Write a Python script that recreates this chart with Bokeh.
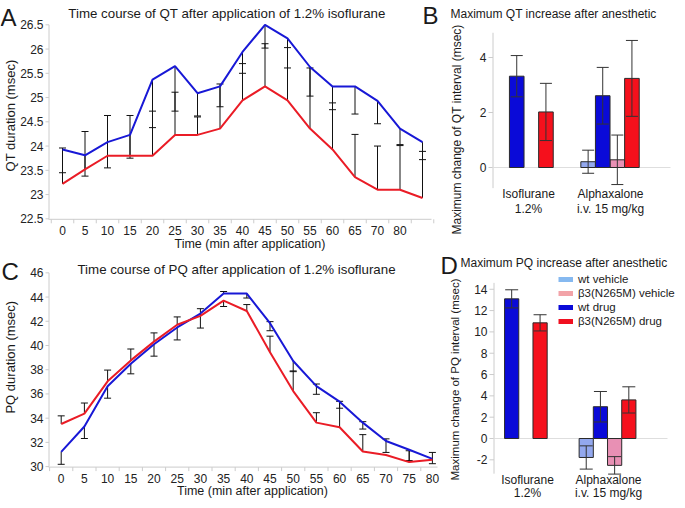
import math
from bokeh.plotting import figure
from bokeh.models import Label, Range1d, Legend, LegendItem
from bokeh.core.properties import value
from bokeh.layouts import column, row
from bokeh.embed import file_html
from bokeh.resources import INLINE

FONT = "Liberation Sans"

# ------------------------------------------------------------------ data
qt_time_labels = ["0", "5", "10", "15", "20", "25", "30", "35", "40", "45",
                  "50", "55", "60", "65", "70", "80", ""]
qt_wt = [23.93, 23.81, 24.08, 24.23, 25.37, 25.65, 25.09, 25.23, 25.94, 26.50,
         26.22, 25.63, 25.23, 25.23, 24.93, 24.36, 24.08]
qt_mut = [23.22, 23.52, 23.80, 23.80, 23.80, 24.23, 24.23, 24.36, 24.94, 25.23,
          24.94, 24.36, 23.93, 23.36, 23.10, 23.10, 22.93]
qt_wt_lo = [23.45, 23.38, 23.55, 23.75, 24.38, 24.72, 24.62, 24.81, 25.50, 26.02,
            25.61, 25.03, 24.75, 24.66, 24.46, 24.03, 23.72]
qt_mut_hi = [23.96, 24.30, 24.63, 24.63, 24.72, 25.11, 24.60, 25.28, 25.70, 26.11,
             26.03, 25.61, 24.89, 24.24, 24.00, 24.01, 23.89]

pq_time_labels = ["0", "5", "10", "15", "20", "25", "30", "35", "40", "45",
                  "50", "55", "60", "65", "70", "75", "80"]
pq_wt = [31.22, 33.31, 36.64, 38.50, 40.10, 41.49, 42.64, 44.29, 44.29, 41.84,
         38.72, 36.64, 35.36, 33.63, 32.11, 31.39, 30.64]
pq_mut = [33.52, 34.37, 37.04, 38.77, 40.32, 41.71, 42.45, 43.71, 42.85, 39.44,
          36.24, 33.63, 33.25, 31.25, 30.96, 30.37, 30.56]
pq_wt_lo = [30.19, 32.32, 35.65, 37.66, 39.12, 40.46, 41.44, 44.29, 43.92, 41.22,
            37.84, 35.97, 34.82, 33.10, 31.17, 30.50, 30.24]
pq_wt_hi = [31.22, 33.31, 36.64, 38.50, 40.10, 41.49, 42.64, 44.46, 44.29, 41.97,
            38.72, 36.82, 35.36, 33.71, 32.29, 31.39, 31.17]
pq_mut_lo = [33.52, 34.37, 37.04, 38.77, 40.32, 41.71, 42.45, 43.22, 42.85, 39.44,
             36.24, 33.63, 33.25, 31.25, 30.96, 30.37, 30.56]
pq_mut_hi = [34.19, 35.25, 37.97, 39.71, 41.04, 42.36, 43.04, 43.71, 43.38, 40.77,
             37.90, 34.45, 35.39, 32.64, 30.96, 31.31, 30.56]

bar_groups = [("Isoflurane", "1.2%"), ("Alphaxalone", "i.v. 15 mg/kg")]
bar_series = ["wt vehicle", "\u03b23(N265M) vehicle", "wt drug", "\u03b23(N265M) drug"]
# values per group [Isoflurane, Alphaxalone]; None = not measured
qt_wt_veh = [None, 0.21];    qt_wt_veh_err = [None, 0.42]
qt_wt_drug = [3.32, 2.61];   qt_wt_drug_err = [0.75, 1.03]
qt_mut_veh = [None, 0.28];   qt_mut_veh_err = [None, 0.90]
qt_mut_drug = [2.02, 3.24];  qt_mut_drug_err = [1.04, 1.38]

pq_wt_veh = [None, -1.78];   pq_wt_veh_err = [None, 1.09]
pq_wt_drug = [13.1, 2.98];   pq_wt_drug_err = [0.85, 1.43]
pq_mut_veh = [None, -2.52];  pq_mut_veh_err = [None, 0.82]
pq_mut_drug = [10.85, 3.62]; pq_mut_drug_err = [0.76, 1.23]

qt_ticks = [22.5, 23, 23.5, 24, 24.5, 25, 25.5, 26, 26.5]
pq_ticks = [30, 32, 34, 36, 38, 40, 42, 44, 46]
qtbar_ticks = [0, 2, 4]
pqbar_ticks = [-2, 0, 2, 4, 6, 8, 10, 12, 14]

# ------------------------------------------------------------------ style
BLUE_LINE = "#1818d6"
RED_LINE = "#ea1c26"
AXIS_GRAY = "#cccccc"
TXT = "#1a1a1a"
BAR_COLORS = ["#93a8ee", "#e890b4", "#0a0ad8", "#f5101c"]   # wt veh, mut veh, wt drug, mut drug
LEGEND_COLORS = ["#86b9f0", "#f2a3a8", "#0a0ad8", "#f01020"]
SLOT = {bar_series[0]: -1.5, bar_series[2]: -0.5, bar_series[1]: 0.5, bar_series[3]: 1.5}


class Canvas:
    """Figure whose plotting frame is the whole canvas; linear scales given by an anchor
    (data value -> pixel) and a pixel-per-unit factor on each axis."""
    def __init__(self, w, h, xd0, xp0, kx, yd0, yp0, ky):
        self.w, self.h = w, h
        self.xd0, self.xp0, self.kx = xd0, xp0, kx
        self.yd0, self.yp0, self.ky = yd0, yp0, ky
        p = figure(width=w, height=h, output_backend="svg", toolbar_location=None,
                   x_range=Range1d(self.dx(0), self.dx(w)),
                   y_range=Range1d(self.dy(h), self.dy(0)),
                   x_axis_type=None, y_axis_type=None, min_border=0,
                   title=None)
        p.outline_line_color = None
        p.background_fill_color = "white"
        p.border_fill_color = "white"
        self.p = p

    def dx(self, px):
        return self.xd0 + (px - self.xp0) / self.kx

    def dy(self, py):
        return self.yd0 - (py - self.yp0) / self.ky

    def label(self, px, py, text, size, align="center", angle=0.0, color=TXT):
        self.p.add_layout(Label(x=self.dx(px), y=self.dy(py), text=text, text_font=FONT,
                                text_font_size=size, text_align=align,
                                text_baseline="middle", angle=angle, text_color=color))

    def texts(self, xs, ys, labels, size="12px", align="center", color="#222222"):
        self.p.text(x=xs, y=ys, text=labels, text_font=value(FONT),
                    text_font_size=value(size), text_align=align,
                    text_baseline="middle", text_color=color)

    def y_axis(self, x_px, ticks, v0, v1, tick_len=3, label_px=None):
        p = self.p
        xa = self.dx(x_px + 0.5)
        p.segment(x0=[xa], y0=[v0], x1=[xa], y1=[v1], line_color=AXIS_GRAY, line_width=1)
        p.segment(x0=[self.dx(x_px - tick_len)] * len(ticks), y0=ticks,
                  x1=[xa] * len(ticks), y1=ticks, line_color=AXIS_GRAY, line_width=1)
        lx = self.dx(label_px if label_px is not None else x_px - tick_len - 2)
        self.texts([lx] * len(ticks), ticks, ["%g" % t for t in ticks], align="right")

    def x_cat_axis(self, y_val, x0, x1, n, labels, minor_max, label_py):
        p = self.p
        ya = y_val - 0.5 / self.ky
        p.segment(x0=[x0], y0=[ya], x1=[x1], y1=[ya], line_color=AXIS_GRAY, line_width=1)
        minors = [i - 0.5 for i in range(n + 1) if i - 0.5 <= minor_max]
        p.segment(x0=minors, y0=[ya] * len(minors), x1=minors,
                  y1=[ya - 4 / self.ky] * len(minors), line_color=AXIS_GRAY, line_width=1)
        xs = list(range(n))
        self.texts(xs, [self.dy(label_py)] * n, labels)


def one_sided_errors(c, xs, vals, los, his, cap_px, color="#111111"):
    cap_half = cap_px / c.kx
    sx, sy0, sy1, cx0, cx1, cy = [], [], [], [], [], []
    for x, v, lo, hi in zip(xs, vals, los, his):
        has_lo = lo < v - 1e-9
        has_hi = hi > v + 1e-9
        if has_lo or has_hi:
            sx.append(x); sy0.append(lo); sy1.append(hi)
        if has_lo:
            cx0.append(x - cap_half); cx1.append(x + cap_half); cy.append(lo)
        if has_hi:
            cx0.append(x - cap_half); cx1.append(x + cap_half); cy.append(hi)
    c.p.segment(x0=sx, y0=sy0, x1=sx, y1=sy1, line_color=color, line_width=1)
    c.p.segment(x0=cx0, y0=cy, x1=cx1, y1=cy, line_color=color, line_width=1)


def bars(c, groups_x, series_vals, series_errs, cap_px):
    p = c.p
    cap_half = cap_px / c.kx
    ex, elo, ehi = [], [], []
    for name, color in zip(bar_series, BAR_COLORS):
        xs, tops = [], []
        for gx, v, e in zip(groups_x, series_vals[name], series_errs[name]):
            if v is None:
                continue
            x = gx + SLOT[name]
            xs.append(x); tops.append(v)
            ex.append(x); elo.append(v - e); ehi.append(v + e)
        p.vbar(x=xs, top=tops, bottom=0, width=1.0, fill_color=color,
               line_color="#2a2a2a", line_width=1)
    p.segment(x0=ex, y0=elo, x1=ex, y1=ehi, line_color="#333333", line_width=1)
    for ys in (elo, ehi):
        p.segment(x0=[x - cap_half for x in ex], y0=ys, x1=[x + cap_half for x in ex],
                  y1=ys, line_color="#333333", line_width=1)


# ------------------------------------------------------------------ panel A (QT time course)
A = Canvas(440, 252, 0, 62, 22.5, 22.5, 218.3, 48.5)
A.y_axis(48, qt_ticks, 22.5, 26.5, label_px=43)
A.x_cat_axis(22.5, A.dx(48), A.dx(431), len(qt_time_labels), qt_time_labels, 16.5, 230)
xa = list(range(len(qt_wt)))
one_sided_errors(A, xa, qt_wt, qt_wt_lo, qt_wt, 3.5)
one_sided_errors(A, xa, qt_mut, qt_mut, qt_mut_hi, 3.5)
A.p.line(xa, qt_wt, line_color=BLUE_LINE, line_width=2)
A.p.line(xa, qt_mut, line_color=RED_LINE, line_width=2)
A.label(0, 16.5, "A", "24px", align="left")
A.label(226.5, 13, "Time course of QT after application of 1.2% isoflurane", "13.3px")
A.label(10, 115, "QT duration (msec)", "13px", angle=math.pi / 2)
A.label(249.5, 243.5, "Time (min after application)", "12.5px")
A.label(422, 15, "B", "24px", align="left")

# ------------------------------------------------------------------ panel B (QT bars)
B = Canvas(237, 252, 0, 52, 14.6, 0, 167, 27.5)
B.y_axis(52, qtbar_ticks, -0.75, 4.9, tick_len=4, label_px=46)
B.p.segment(x0=[B.dx(52)], y0=[0], x1=[B.dx(230)], y1=[0], line_color="#dedede", line_width=1)
bars(B, [2.16, 8.05],
     {bar_series[0]: qt_wt_veh, bar_series[1]: qt_mut_veh,
      bar_series[2]: qt_wt_drug, bar_series[3]: qt_mut_drug},
     {bar_series[0]: qt_wt_veh_err, bar_series[1]: qt_mut_veh_err,
      bar_series[2]: qt_wt_drug_err, bar_series[3]: qt_mut_drug_err}, 6)
B.label(10, 13, "Maximum QT increase after anesthetic", "12px", align="left")
B.label(16, 129, "Maximum change of QT interval (msec)", "12px", angle=math.pi / 2)
for cx, (l1, l2) in zip([88, 170], bar_groups):
    B.label(cx, 193, l1, "12px")
    B.label(cx, 208.5, l2, "12px")

# ------------------------------------------------------------------ panel C (PQ time course)
C = Canvas(440, 248, 0, 60.7, 23.2, 30, 214.1, 12.11)
C.y_axis(48, pq_ticks, 30, 46, label_px=43)
C.x_cat_axis(30, C.dx(48), C.dx(437), len(pq_time_labels), pq_time_labels, 15.5, 225.8)
xc = list(range(len(pq_wt)))
one_sided_errors(C, xc, pq_wt, pq_wt_lo, pq_wt_hi, 3.5)
one_sided_errors(C, xc, pq_mut, pq_mut_lo, pq_mut_hi, 3.5)
C.p.line(xc, pq_wt, line_color=BLUE_LINE, line_width=2)
C.p.line(xc, pq_mut, line_color=RED_LINE, line_width=2)
C.label(1, 18.5, "C", "24px", align="left")
C.label(236, 16.5, "Time course of PQ after application of 1.2% isoflurane", "13.3px")
C.label(10, 104.7, "PQ duration (msec)", "13px", angle=math.pi / 2)
C.label(252, 238.4, "Time (min after application)", "12.5px")

# ------------------------------------------------------------------ panel D (PQ bars)
D = Canvas(237, 248, 0, 53, 14.2, 0, 186.0, 10.66)
D.y_axis(53, pqbar_ticks, -3.3, 14.6, tick_len=4, label_px=47)
D.p.segment(x0=[D.dx(53)], y0=[0], x1=[D.dx(227)], y1=[0], line_color="#dedede", line_width=1)
bars(D, [1.78, 8.03],
     {bar_series[0]: pq_wt_veh, bar_series[1]: pq_mut_veh,
      bar_series[2]: pq_wt_drug, bar_series[3]: pq_mut_drug},
     {bar_series[0]: pq_wt_veh_err, bar_series[1]: pq_mut_veh_err,
      bar_series[2]: pq_wt_drug_err, bar_series[3]: pq_mut_drug_err}, 6.5)
D.label(0, 12.5, "D", "24px", align="left")
D.label(20, 10.5, "Maximum PQ increase after anesthetic", "12px", align="left")
D.label(14, 127, "Maximum change of PQ interval (msec)", "11.5px", angle=math.pi / 2)
for cx, (l1, l2) in zip([87, 168], bar_groups):
    D.label(cx, 227.7, l1, "12px")
    D.label(cx, 240.3, l2, "12px")

items = []
for name, color in zip(bar_series, LEGEND_COLORS):
    r = D.p.line(x=[-100, -99], y=[-100, -100], line_color=color, line_width=5)
    items.append(LegendItem(label=name, renderers=[r]))
legend = Legend(items=items, location=(118, 172), margin=0, padding=0, spacing=0,
                label_height=14, glyph_height=14, glyph_width=15, label_standoff=5,
                label_text_font=FONT, label_text_font_size="11.5px",
                label_text_color=TXT, border_line_alpha=0, background_fill_alpha=0)
D.p.add_layout(legend, "center")

layout = column(row(A.p, B.p), row(C.p, D.p))
open("out.html", "w").write(file_html(layout, INLINE))
